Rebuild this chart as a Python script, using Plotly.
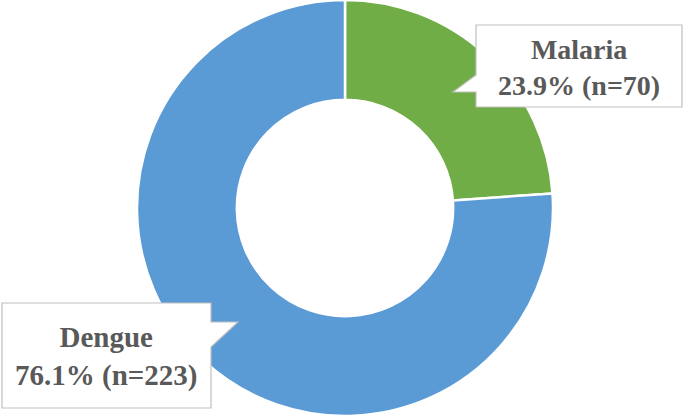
import plotly.graph_objects as go

categories = ["Malaria", "Dengue"]
counts = [70, 223]
colors = ["#70AD47", "#5B9BD5"]

W, H = 685, 418
total = sum(counts)
pcts = [round(100 * c / total, 1) for c in counts]

def px(x):
    return x / W

def py(y):
    return 1 - y / H

fig = go.Figure()
fig.add_trace(go.Pie(
    labels=categories,
    values=counts,
    sort=False,
    direction="clockwise",
    rotation=0,
    hole=0.52,
    marker=dict(colors=colors, line=dict(color="white", width=2.5)),
    textinfo="none",
    hoverinfo="label+value+percent",
    domain=dict(x=[px(345 - 208), px(345 + 208)], y=[py(208 + 208), py(208 - 208)]),
    showlegend=False,
))

def path(points):
    s = "M " + " L ".join(f"{px(x):.5f},{py(y):.5f}" for x, y in points) + " Z"
    return s

callouts = {
    "Malaria": dict(pts=[(476, 25), (682, 25), (682, 107), (476, 107), (476, 92), (453, 92), (476, 75)],
                    cx=579, cy=67, size=28),
    "Dengue": dict(pts=[(2, 303), (211, 303), (211, 322), (238, 322), (211, 347), (211, 408), (2, 408)],
                   cx=106, cy=356, size=29),
}

shapes = []
annotations = []
for cat, n, p in zip(categories, counts, pcts):
    c = callouts[cat]
    shapes.append(dict(type="path", xref="paper", yref="paper", path=path(c["pts"]),
                       fillcolor="white", line=dict(color="#BFBFBF", width=1.2)))
    annotations.append(dict(
        x=px(c["cx"]), y=py(c["cy"]), xref="paper", yref="paper",
        text=f"<b>{cat}</b><br><b>{p}% (n={n})</b>",
        showarrow=False, xanchor="center", yanchor="middle", align="center",
        font=dict(family="Liberation Serif", size=c["size"], color="#595959"),
    ))

fig.update_layout(
    width=W, height=H,
    margin=dict(l=0, r=0, t=0, b=0),
    paper_bgcolor="white", plot_bgcolor="white",
    shapes=shapes, annotations=annotations,
)

fig.write_html("out.html", config={"displayModeBar": False},
               post_script="document.body.style.margin='0';")
